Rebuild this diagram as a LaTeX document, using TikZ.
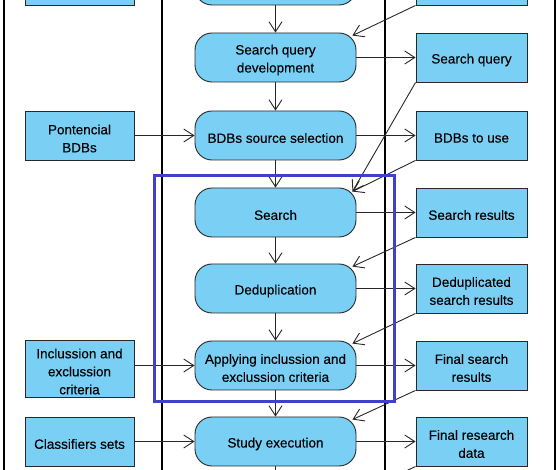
\documentclass[tikz,border=0pt]{standalone}
\usepackage{fontspec}
\setmainfont{Liberation Sans}[FakeBold=0.2]
\usetikzlibrary{arrows.meta,calc}
\definecolor{boxfill}{RGB}{122,207,245}
\definecolor{frameblue}{RGB}{64,64,204}
\definecolor{edge}{RGB}{40,40,40}
\begin{document}
\begin{tikzpicture}[x=1pt,y=-1pt,
  every node/.style={font=\fontsize{13.5}{18}\selectfont, align=center, inner sep=0pt},
  lbl/.style={yshift=-2.5pt},
  actbox/.style={draw=edge, fill=boxfill, rounded corners=17pt, minimum width=161pt, minimum height=49pt, line width=0.9pt},
  objbox/.style={draw=edge, fill=boxfill, minimum width=111pt, minimum height=49pt, line width=0.9pt},
  leftbox/.style={objbox, minimum width=109pt},
  flow/.style={draw=edge, line width=0.9pt, -{Straight Barb[length=10pt,width=13pt]}},
  lane/.style={line width=2pt, black}]
\useasboundingbox (0,0) rectangle (558,470);
\clip (0,0) rectangle (558,470);
\fill[white] (0,0) rectangle (558,470);
% swimlane lines
\draw[lane] (3.5,-10) -- (3.5,480);
\draw[lane] (162,-10) -- (162,480);
\draw[lane] (385,-10) -- (385,480);
\draw[lane] (554.5,-10) -- (554.5,480);
% left objects
\node[leftbox] (L0) at (79.5,-19.5) {};
\node[leftbox, label={[lbl]center:{Pontencial\\BDBs}}] (L1) at (79.5,136) {};
\node[leftbox, minimum height=57pt, label={[lbl]center:{Inclussion and\\exclussion\\criteria}}] (L2) at (79.5,369) {};
\node[leftbox, label={[lbl]center:{Classifiers sets}}] (L3) at (79.5,441.5) {};
% activities
\node[actbox] (C0) at (275.5,-19.5) {};
\node[actbox, label={[lbl]center:{Search query\\development}}] (C1) at (275.5,57.5) {};
\node[actbox, label={[lbl]center:{BDBs source selection}}] (C2) at (275.5,135.5) {};
\node[actbox, label={[lbl]center:{Search}}] (C3) at (275.5,212.5) {};
\node[actbox, label={[lbl]center:{Deduplication}}] (C4) at (275.5,288.5) {};
\node[actbox, label={[lbl]center:{Applying inclussion and\\exclussion criteria}}] (C5) at (275.5,365.5) {};
\node[actbox, label={[lbl]center:{Study execution}}] (C6) at (275.5,441.5) {};
\coordinate (C7t) at (275.5,494);
\coordinate (C7tr) at (352,497);
% right objects
\node[objbox] (R0) at (471.5,-19.5) {};
\node[objbox, label={[lbl]center:{Search query}}] (R1) at (471.5,57.5) {};
\node[objbox, label={[lbl]center:{BDBs to use}}] (R2) at (471.5,135.5) {};
\node[objbox, label={[lbl]center:{Search results}}] (R3) at (471.5,212.5) {};
\node[objbox, label={[lbl]center:{Deduplicated\\search results}}] (R4) at (471.5,288.5) {};
\node[objbox, label={[lbl]center:{Final search\\results}}] (R5) at (471.5,365.5) {};
\node[objbox, label={[lbl]center:{Final research\\data}}] (R6) at (471.5,441.5) {};
% control flow
\draw[flow] (C0) -- (C1);
\draw[flow] (C1) -- (C2);
\draw[flow] (C2) -- (C3);
\draw[flow] (C3) -- (C4);
\draw[flow] (C4) -- (C5);
\draw[flow] (C5) -- (C6);
\draw[flow] (C6) -- (C7t);
% outputs
\draw[flow] (C1) -- (R1);
\draw[flow] (C2) -- (R2);
\draw[flow] (C3) -- (R3);
\draw[flow] (C4) -- (R4);
\draw[flow] (C5) -- (R5);
\draw[flow] (C6) -- (R6);
% inputs
\draw[flow] (L1.east |- C2) -- (C2);
\draw[flow] (L2.east |- C5) -- (C5);
\draw[flow] (L3) -- (C6);
% object flows back
\draw[flow] (R0.south west) -- ([shift={(-4,3)}]C1.north east);
\draw[flow] (R1.south west) -- ([shift={(-4,4)}]C3.north east);
\draw[flow] (R2.south west) -- ([shift={(-4,4)}]C3.north east);
\draw[flow] (R3.south west) -- ([shift={(-4,3)}]C4.north east);
\draw[flow] (R4.south west) -- ([shift={(-4,3)}]C5.north east);
\draw[flow] (R5.south west) -- ([shift={(-4,3)}]C6.north east);
\draw[flow] (R6.south west) -- (C7tr);
% highlight frame
\draw[frameblue, line width=3pt] (154,175.5) rectangle (394,402);
\end{tikzpicture}
\end{document}
